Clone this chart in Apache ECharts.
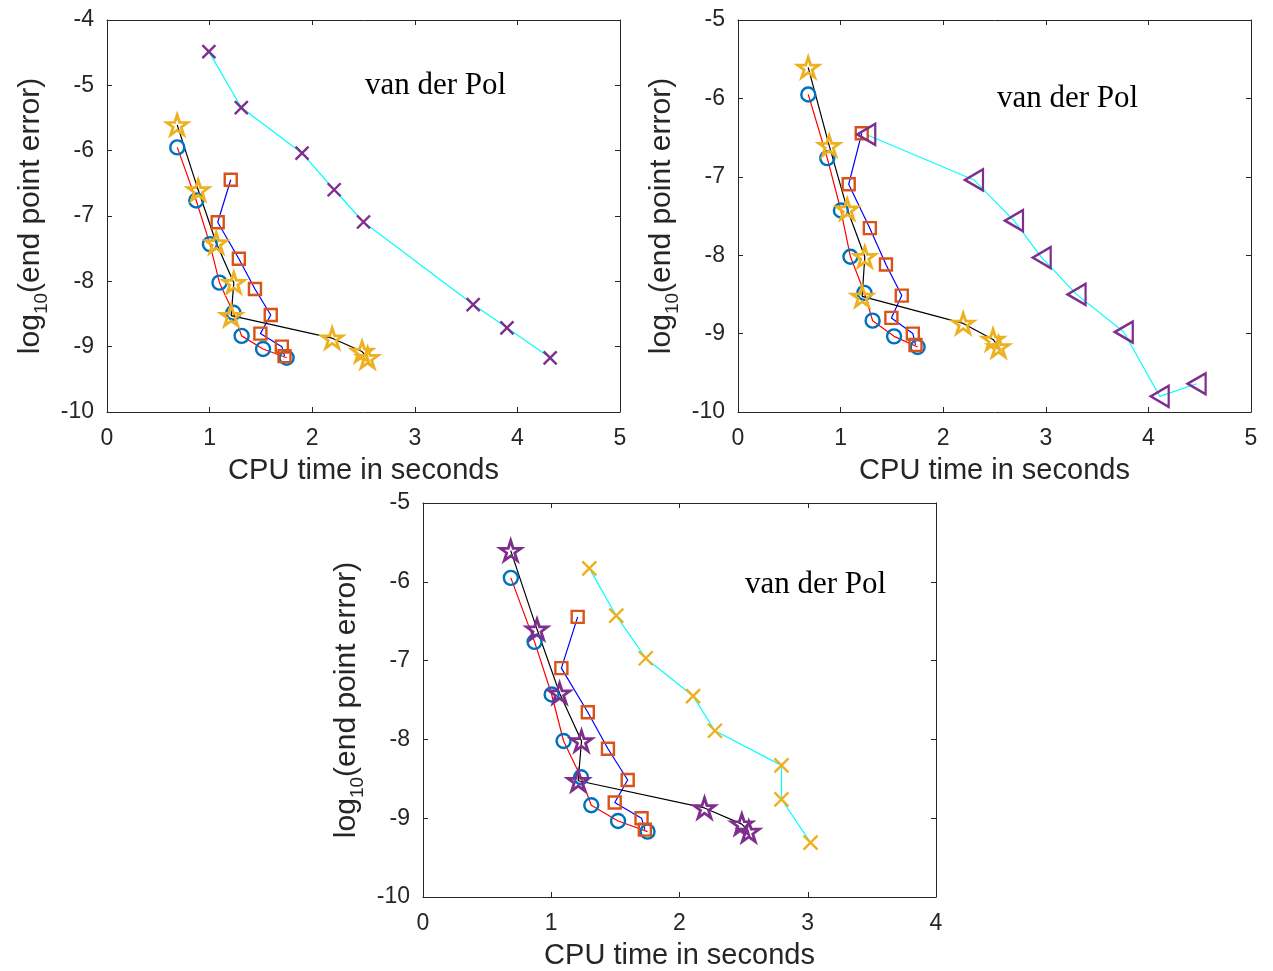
<!DOCTYPE html>
<html>
<head>
<meta charset="utf-8">
<script src="https://cdn.jsdelivr.net/npm/echarts@6/dist/echarts.min.js"></script>
<style>
html,body{margin:0;padding:0;background:#fff;}
#c{width:1273px;height:971px;}
</style>
</head>
<body>
<div id="c"></div>
<script>
// ---- data ----
const circX = [0.685, 0.870, 1.003, 1.096, 1.232, 1.312, 1.521, 1.751];
const circY = [-5.950, -6.762, -7.430, -8.020, -8.480, -8.835, -9.035, -9.170];
const sqX   = [1.206, 1.079, 1.285, 1.442, 1.596, 1.495, 1.704, 1.730];
const sqY   = [-6.445, -7.095, -7.655, -8.118, -8.515, -8.800, -9.000, -9.145];
const starX = [0.684, 0.889, 1.065, 1.236, 1.210, 2.195, 2.486, 2.540];
const starY = [-5.605, -6.603, -7.413, -8.020, -8.525, -8.870, -9.075, -9.170];
// plot 1: x-markers
const cross1X = [0.993, 1.309, 1.901, 2.214, 2.500, 3.569, 3.898, 4.319];
const cross1Y = [-4.484, -5.340, -6.038, -6.598, -7.092, -8.356, -8.712, -9.171];
// plot 2: left triangles
const triX = [1.250, 2.300, 2.690, 2.960, 3.300, 3.760, 4.110, 4.470];
const triY = [-6.460, -7.040, -7.560, -8.030, -8.500, -8.980, -9.800, -9.640];
// plot 3: x-markers
const cross3X = [1.297, 1.507, 1.737, 2.106, 2.276, 2.795, 2.795, 3.022];
const cross3Y = [-5.830, -6.430, -6.970, -7.450, -7.890, -8.330, -8.760, -9.310];

const xTicks1 = [0, 1, 2, 3, 4, 5];
const xTicks3 = [0, 1, 2, 3, 4];
const yRange1 = [-10, -4];
const yRange2 = [-10, -5];
const xLabel = 'CPU time in seconds';
const yLabel = ['log', '10', '(end point error)'];
const noteText = 'van der Pol';

// ---- style ----
const SANS = '"Liberation Sans", Arial, Helvetica, sans-serif';
const SERIF = '"Liberation Serif", "Times New Roman", serif';
const AX = '#262626';
const C_BLUE = '#0072BD', C_ORANGE = '#D95319', C_GOLD = '#EDB120', C_PURPLE = '#7E2F8E';

function zip(a, b) { return a.map((v, i) => [v, b[i]]); }

function starPath() {
  const p = [];
  for (let i = 0; i < 10; i++) {
    const r = i % 2 ? 0.382 : 1;
    const a = -Math.PI / 2 + i * Math.PI / 5;
    p.push((50 + 50 * r * Math.cos(a)).toFixed(2) + ' ' + (50 + 50 * r * Math.sin(a)).toFixed(2));
  }
  return 'path://M' + p.join(' L') + ' Z';
}
const STAR = starPath();
const CROSS = 'path://M0 0 L10 10 M10 0 L0 10';
const TRI_L = 'path://M0 5 L10 0 L10 10 Z';

const grids = [
  {left: 107, top: 20, width: 513, height: 392},
  {left: 738, top: 20, width: 513, height: 392},
  {left: 423, top: 503, width: 513, height: 394}
];
const xMax = [xTicks1[xTicks1.length - 1], xTicks1[xTicks1.length - 1], xTicks3[xTicks3.length - 1]];
const yR = [yRange1, yRange2, yRange2];

const xAxis = [], yAxis = [];
grids.forEach((g, gi) => {
  const common = {
    gridIndex: gi, type: 'value', interval: 1,
    axisLine: {show: true, onZero: false, lineStyle: {color: AX, width: 1}},
    axisTick: {show: true, inside: true, length: 5, lineStyle: {color: AX, width: 1}},
    splitLine: {show: false}
  };
  xAxis.push(Object.assign({}, common, {
    position: 'bottom', min: 0, max: xMax[gi],
    axisLabel: {show: true, margin: 15, fontSize: 23, fontFamily: SANS, color: AX},
    name: xLabel, nameLocation: 'middle', nameGap: 44,
    nameTextStyle: {fontSize: 29, fontFamily: SANS, color: AX}
  }));
  xAxis.push(Object.assign({}, common, {
    position: 'top', min: 0, max: xMax[gi], axisLabel: {show: false}
  }));
  yAxis.push(Object.assign({}, common, {
    position: 'left', min: yR[gi][0], max: yR[gi][1],
    axisLabel: {show: true, margin: 13, fontSize: 23, fontFamily: SANS, color: AX},
    name: '{a|' + yLabel[0] + '}{s|' + yLabel[1] + '}{a|' + yLabel[2] + '}',
    nameLocation: 'middle', nameGap: 56,
    nameTextStyle: {
      color: AX, fontFamily: SANS,
      rich: {
        a: {fontSize: 30, fontFamily: SANS, color: AX, lineHeight: 40, verticalAlign: 'middle'},
        s: {fontSize: 19, fontFamily: SANS, color: AX, lineHeight: 19, verticalAlign: 'bottom'}
      }
    }
  }));
  yAxis.push(Object.assign({}, common, {
    position: 'right', min: yR[gi][0], max: yR[gi][1], axisLabel: {show: false}
  }));
});

function mk(gi, xs, ys, lineColor, symbol, size, mColor, bw) {
  return {
    type: 'line', xAxisIndex: 2 * gi, yAxisIndex: 2 * gi,
    data: zip(xs, ys), symbol: symbol, symbolSize: size, showSymbol: true,
    lineStyle: {color: lineColor, width: 1.2},
    itemStyle: {color: 'rgba(0,0,0,0)', borderColor: mColor, borderWidth: bw},
    silent: true, animation: false, emphasis: {disabled: true}
  };
}

const series = [];
[0, 1, 2].forEach(gi => {
  series.push(mk(gi, circX, circY, '#FF0000', 'circle', 14, C_BLUE, 2.4));
  series.push(mk(gi, sqX, sqY, '#0000FF', 'rect', 12, C_ORANGE, 2.4));
  series.push(mk(gi, starX, starY, '#000000', STAR, [21, 20], gi === 2 ? C_PURPLE : C_GOLD, 2.8));
});
series.push(mk(0, cross1X, cross1Y, '#00FFFF', CROSS, 13, C_PURPLE, 2.4));
series.push(mk(1, triX, triY, '#00FFFF', TRI_L, [18, 21], C_PURPLE, 2.4));
series.push(mk(2, cross3X, cross3Y, '#00FFFF', CROSS, 14, C_GOLD, 2.4));

const notes = [[365, 87], [997, 100], [745, 586]];
const graphic = notes.map(n => ({
  type: 'text', left: n[0], top: n[1] - 17, silent: true,
  style: {text: noteText, font: '31px ' + SERIF, fill: '#000'}
}));

const chart = echarts.init(document.getElementById('c'), null, {renderer: 'canvas'});
chart.setOption({
  animation: false, backgroundColor: '#fff',
  grid: grids, xAxis: xAxis, yAxis: yAxis, series: series, graphic: graphic
});
</script>
</body>
</html>
